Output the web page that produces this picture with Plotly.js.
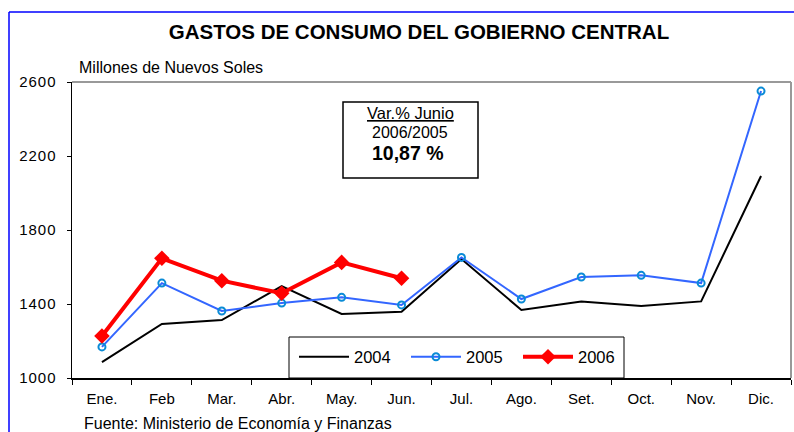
<!DOCTYPE html>
<html>
<head>
<meta charset="utf-8">
<script src="https://cdn.plot.ly/plotly-3.0.1.min.js"></script>
<style>
html,body{margin:0;padding:0;background:#fff;}
#chart{width:794px;height:432px;}
.ytick text{letter-spacing:1px;}
</style>
</head>
<body>
<div id="chart"></div>
<script>
var months = ["Ene.", "Feb", "Mar.", "Abr.", "May.", "Jun.", "Jul.", "Ago.", "Set.", "Oct.", "Nov.", "Dic."];
var v2004 = [1086, 1292, 1313, 1497, 1346, 1358, 1643, 1368, 1414, 1389, 1414, 2092];
var v2005 = [1168, 1513, 1362, 1405, 1436, 1395, 1652, 1427, 1546, 1555, 1513, 2551];
var months2006 = ["Ene.", "Feb", "Mar.", "Abr.", "May.", "Jun."];
var v2006 = [1227, 1647, 1526, 1458, 1625, 1539];
var yTicks = [1000, 1400, 1800, 2200, 2600];

var FONT = "Liberation Sans, Arial, sans-serif";

var traces = [
  {x: months, y: v2004, name: "2004", type: "scatter", mode: "lines",
   line: {color: "#000000", width: 2}},
  {x: months, y: v2005, name: "2005", type: "scatter", mode: "lines+markers",
   line: {color: "#3366FF", width: 2},
   marker: {symbol: "circle-open", size: 7, color: "#0A8BD6", line: {color: "#0A8BD6", width: 2}}},
  {x: months2006, y: v2006, name: "2006", type: "scatter", mode: "lines+markers",
   line: {color: "#FF0000", width: 4},
   marker: {symbol: "diamond", size: 12, color: "#FF0000"}}
];

function px(x){return (x-72)/719;}
function py(y){return (378-y)/296;}

var layout = {
  width: 794, height: 432,
  margin: {l: 72, r: 3, t: 82, b: 54},
  paper_bgcolor: "#ffffff", plot_bgcolor: "#ffffff",
  font: {family: FONT, size: 14, color: "#000"},
  showlegend: true,
  title: {text: "<b>GASTOS DE CONSUMO DEL GOBIERNO CENTRAL</b>",
          font: {family: FONT, size: 20.5, color: "#000"},
          xref: "paper", x: px(419), xanchor: "center",
          yref: "container", y: 1 - 32/432, yanchor: "middle"},
  xaxis: {type: "category", categoryarray: months, categoryorder: "array",
          range: [-0.5, 11.5], showgrid: false, zeroline: false,
          showline: true, linecolor: "#000", linewidth: 1.5,
          ticks: "outside", tickson: "boundaries", ticklen: 5, tickcolor: "#000", tickwidth: 1,
          tickfont: {family: FONT, size: 15, color: "#000"}, ticklabelstandoff: 6, fixedrange: true},
  yaxis: {range: [1000, 2600], tickvals: yTicks, ticktext: yTicks.map(String),
          showgrid: false, zeroline: false,
          showline: true, linecolor: "#000", linewidth: 1.5,
          ticks: "outside", ticklen: 4, tickcolor: "#000",
          tickfont: {family: FONT, size: 15, color: "#000"}, ticklabelstandoff: 7, fixedrange: true},
  legend: {orientation: "h", x: px(294), xanchor: "left", y: py(357), yanchor: "middle",
           bgcolor: "rgba(0,0,0,0)", borderwidth: 0,
           font: {family: FONT, size: 16.5, color: "#000"}, itemwidth: 50,
           entrywidth: 47, entrywidthmode: "pixels"},
  shapes: [
    {type: "line", xref: "paper", yref: "paper", x0: px(9), x1: px(9), y0: py(432), y1: py(12),
     line: {color: "#0000FF", width: 1.5}},
    {type: "line", xref: "paper", yref: "paper", x0: px(9), x1: px(794), y0: py(12), y1: py(12),
     line: {color: "#0000FF", width: 1.5}},
    {type: "line", xref: "paper", yref: "paper", x0: 0, x1: 1, y0: 1, y1: 1,
     line: {color: "#999999", width: 2}},
    {type: "line", xref: "paper", yref: "paper", x0: 1, x1: 1, y0: 0, y1: 1,
     line: {color: "#999999", width: 2}},
    {type: "rect", xref: "paper", yref: "paper", x0: px(289), x1: px(624), y0: py(378), y1: py(337),
     fillcolor: "#ffffff", line: {color: "#000", width: 1}, layer: "above"},
    {type: "rect", xref: "paper", yref: "paper", x0: px(343), x1: px(478), y0: py(178), y1: py(102),
     fillcolor: "#ffffff", line: {color: "#000", width: 1.5}, layer: "above"}
  ],
  annotations: [
    {text: "Millones de Nuevos Soles", xref: "paper", yref: "paper", x: px(77), y: py(68),
     xanchor: "left", yanchor: "middle", showarrow: false, font: {family: FONT, size: 16, color: "#000"}},
    {text: "Fuente: Ministerio de Economía y Finanzas", xref: "paper", yref: "paper", x: px(82), y: py(423),
     xanchor: "left", yanchor: "middle", showarrow: false, font: {family: FONT, size: 16, color: "#000"}},
    {text: "<u>Var.% Junio</u>", xref: "paper", yref: "paper", x: px(410), y: py(113),
     xanchor: "center", yanchor: "middle", showarrow: false, font: {family: FONT, size: 16.5, color: "#000"}},
    {text: "2006/2005", xref: "paper", yref: "paper", x: px(410), y: py(132),
     xanchor: "center", yanchor: "middle", showarrow: false, font: {family: FONT, size: 16, color: "#000"}},
    {text: "<b>10,87 %</b>", xref: "paper", yref: "paper", x: px(408), y: py(153),
     xanchor: "center", yanchor: "middle", showarrow: false, font: {family: FONT, size: 19.5, color: "#000"}}
  ]
};

Plotly.newPlot("chart", traces, layout, {displayModeBar: false, staticPlot: true});
</script>
</body>
</html>
